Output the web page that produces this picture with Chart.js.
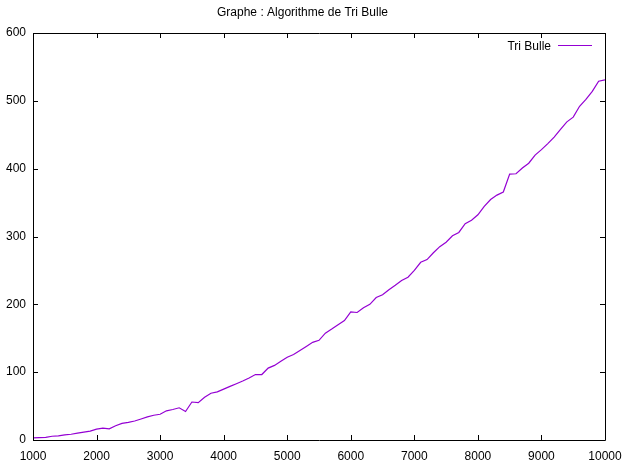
<!DOCTYPE html>
<html>
<head>
<meta charset="utf-8">
<title>Graphe : Algorithme de Tri Bulle</title>
<script src="https://cdn.jsdelivr.net/npm/chart.js@4"></script>
<style>
  html, body { margin: 0; padding: 0; background: #fff; }
  #wrap { width: 628px; height: 464px; position: relative; }
</style>
</head>
<body>
<div id="wrap"><canvas id="chart"></canvas></div>
<script>
// taille du tableau (n)
const sizes = [
  1000, 1100, 1200, 1300, 1400, 1500, 1600, 1700, 1800, 1900,
  2000, 2100, 2200, 2300, 2400, 2500, 2600, 2700, 2800, 2900,
  3000, 3100, 3200, 3300, 3400, 3500, 3600, 3700, 3800, 3900,
  4000, 4100, 4200, 4300, 4400, 4500, 4600, 4700, 4800, 4900,
  5000, 5100, 5200, 5300, 5400, 5500, 5600, 5700, 5800, 5900,
  6000, 6100, 6200, 6300, 6400, 6500, 6600, 6700, 6800, 6900,
  7000, 7100, 7200, 7300, 7400, 7500, 7600, 7700, 7800, 7900,
  8000, 8100, 8200, 8300, 8400, 8500, 8600, 8700, 8800, 8900,
  9000, 9100, 9200, 9300, 9400, 9500, 9600, 9700, 9800, 9900,
  10000
];

// temps mesurés - Tri Bulle
const triBulle = [
  3, 3.5, 4, 5.5, 6, 7.5, 8.5, 10, 11.5, 13,
  16, 17.5, 16.5, 21, 24.5, 26, 28, 31, 34, 36.5,
  38, 43, 45, 47.5, 42, 56, 55, 63, 69, 71,
  75, 79, 83, 87, 91.5, 96.5, 96.5, 106, 110, 116,
  122, 126, 132, 138, 144, 147, 157.5, 163.5, 170, 176,
  189, 188, 195, 200, 210, 214, 221.5, 228, 235, 240,
  250, 262, 266, 276, 285, 291.5, 301, 306, 319, 324,
  332, 344.5, 354.5, 361, 365.5, 392, 392.5, 401, 408, 420,
  428, 437, 446.5, 458, 469, 476, 492, 502, 514, 529,
  531
];

const xTicks = [1000, 2000, 3000, 4000, 5000, 6000, 7000, 8000, 9000, 10000];
const yTicks = [0, 100, 200, 300, 400, 500, 600];

const FONT = '"Liberation Sans", Arial, sans-serif';
const LINE_COLOR = '#9400d3';

/* ---------- gnuplot style frame, inward ticks, legend ---------- */
const framePlugin = {
  id: 'frame',
  afterDraw(chart) {
    const { ctx, chartArea: a, scales } = chart;
    const tick = 5;
    ctx.save();
    ctx.strokeStyle = '#000';
    ctx.lineWidth = 1;
    ctx.beginPath();
    ctx.rect(Math.round(a.left) + 0.5, Math.round(a.top) + 0.5,
      Math.round(a.right - a.left), Math.round(a.bottom - a.top));
    xTicks.forEach(v => {
      const x = Math.round(scales.x.getPixelForValue(v)) + 0.5;
      ctx.moveTo(x, a.bottom); ctx.lineTo(x, a.bottom - tick);
      ctx.moveTo(x, a.top); ctx.lineTo(x, a.top + tick);
    });
    yTicks.forEach(v => {
      const y = Math.round(scales.y.getPixelForValue(v)) + 0.5;
      ctx.moveTo(a.left, y); ctx.lineTo(a.left + tick, y);
      ctx.moveTo(a.right, y); ctx.lineTo(a.right - tick, y);
    });
    ctx.stroke();

    // legend: label then line sample, top right inside the plot
    const ds = chart.data.datasets[0];
    const ly = a.top + 12.5;
    const sampleEnd = a.right - 13;
    const sampleStart = sampleEnd - 34;
    ctx.font = '12px ' + FONT;
    ctx.fillStyle = '#000';
    ctx.textAlign = 'right';
    ctx.textBaseline = 'middle';
    ctx.fillText(ds.label, sampleStart - 7, ly + 1);
    ctx.strokeStyle = ds.borderColor;
    ctx.beginPath();
    ctx.moveTo(sampleStart, ly); ctx.lineTo(sampleEnd, ly);
    ctx.stroke();
    ctx.restore();
  }
};

const zeroPad = (scale) => {
  scale.paddingLeft = 0; scale.paddingRight = 0;
  scale.paddingTop = 0; scale.paddingBottom = 0;
};

new Chart(document.getElementById('chart'), {
  type: 'line',
  data: {
    datasets: [{
      label: 'Tri Bulle',
      data: sizes.map((n, i) => ({ x: n, y: triBulle[i] })),
      borderColor: LINE_COLOR,
      borderWidth: 1.2,
      pointRadius: 0,
      tension: 0,
      fill: false
    }]
  },
  options: {
    responsive: true,
    maintainAspectRatio: false,
    animation: false,
    layout: { padding: { top: 0, right: 23, bottom: 0, left: 0 } },
    plugins: {
      legend: { display: false },
      tooltip: { enabled: false },
      title: {
        display: true,
        text: 'Graphe : Algorithme de Tri Bulle',
        color: '#000',
        font: { family: FONT, size: 12, weight: 'normal' },
        padding: { top: 5, bottom: 13.6 }
      }
    },
    scales: {
      x: {
        type: 'linear',
        min: 1000,
        max: 10000,
        afterBuildTicks: (scale) => { scale.ticks = xTicks.map(v => ({ value: v })); },
        afterFit: (scale) => { scale.height = 24; zeroPad(scale); },
        grid: { display: false, drawTicks: false },
        border: { display: false },
        ticks: {
          color: '#000',
          padding: 9,
          maxRotation: 0,
          autoSkip: false,
          font: { family: FONT, size: 12 },
          callback: (v) => String(v)
        }
      },
      y: {
        min: 0,
        max: 600,
        afterBuildTicks: (scale) => { scale.ticks = yTicks.map(v => ({ value: v })); },
        afterFit: (scale) => { scale.width = 33; zeroPad(scale); },
        grid: { display: false, drawTicks: false },
        border: { display: false },
        ticks: {
          color: '#000',
          padding: 7,
          autoSkip: false,
          font: { family: FONT, size: 12 },
          callback: (v) => String(v)
        }
      }
    }
  },
  plugins: [framePlugin]
});
</script>
</body>
</html>
